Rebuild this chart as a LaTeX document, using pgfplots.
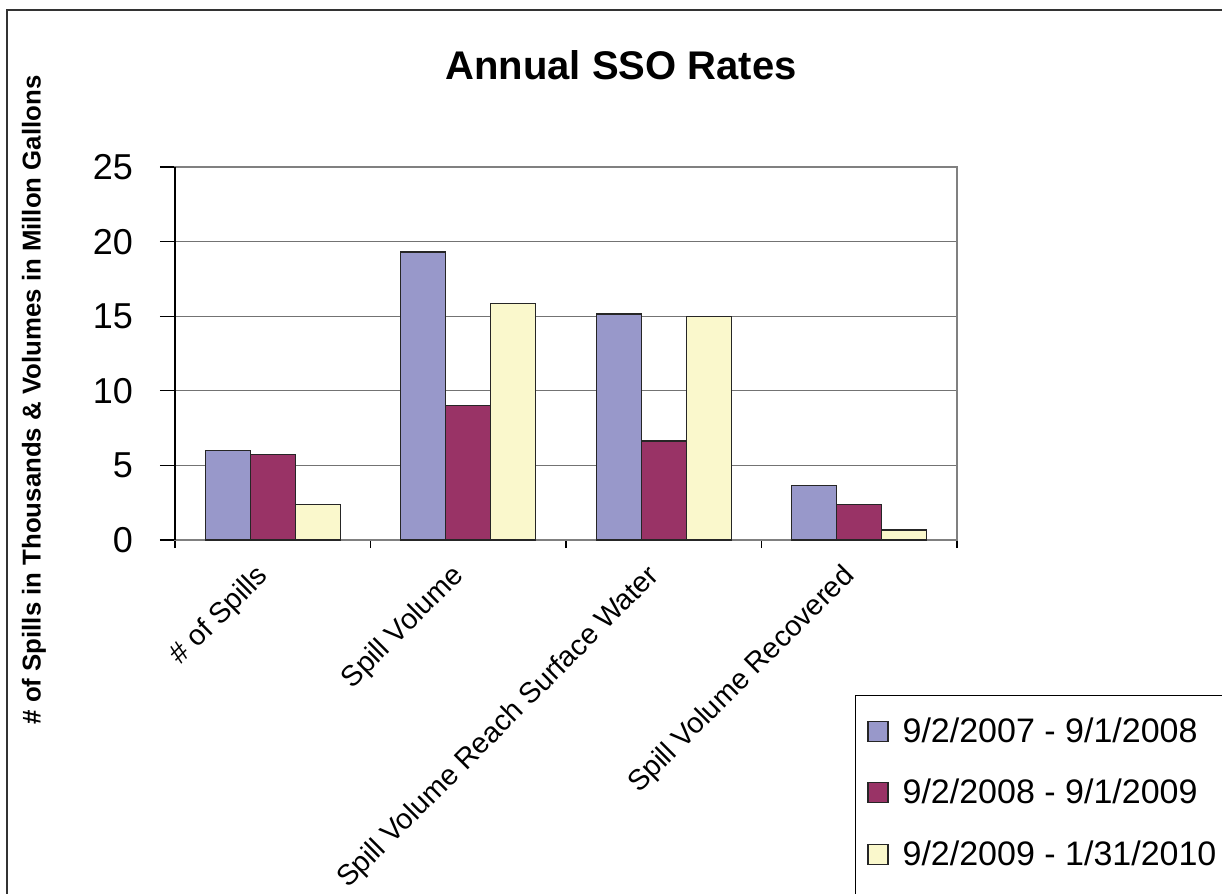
\documentclass[border=0pt]{standalone}
\usepackage{fontspec}
\setmainfont{Liberation Sans}
\usepackage{pgfplots}
\pgfplotsset{compat=1.18}
\definecolor{barblue}{RGB}{152,152,202}
\definecolor{barred}{RGB}{153,51,102}
\definecolor{baryellow}{RGB}{250,248,204}
\tikzset{xlab/.style={rotate=45, anchor=north east, inner sep=0pt,
    font=\fontsize{14.4}{16}\selectfont}}

\begin{document}
\begin{tikzpicture}
  % page of 1222x894 px at 0.5pt per px
  \useasboundingbox (0pt,0pt) rectangle (611pt,-447pt);
  \draw[line width=0.8pt, black!80] (3.6pt,-460pt) -- (3.6pt,-5pt) -- (620pt,-5pt);
  \node[font=\fontsize{20}{24}\selectfont\bfseries] at (310.5pt,-32.5pt) {Annual SSO Rates};
  \node[rotate=90, font=\fontsize{12.9}{15}\selectfont\bfseries] at (17pt,-200pt)
    {\# of Spills in Thousands \& Volumes in Millon Gallons};
  % legend frame runs off the page, as in the original
  \draw[black, line width=0.6pt] (427.8pt,-470pt) |- (640pt,-347.8pt);
  \begin{axis}[
      at={(87.5pt,-270pt)}, anchor=south west,
      scale only axis,
      width=391pt, height=186.5pt,
      xmin=-0.5, xmax=3.5,
      ymin=0, ymax=25,
      ytick={0,5,...,25},
      xtick={-0.5,0.5,1.5,2.5,3.5},
      xticklabels={},
      ytick pos=left, xtick pos=bottom,
      tick align=outside,
      major tick length=7.5pt,
      xtick style={/pgfplots/major tick length=4pt},
      tick style={black, line width=0.6pt},
      x axis line style={black},
      axis line style={gray, line width=0.6pt},
      ymajorgrids,
      grid style={black!55, line width=0.6pt},
      /pgf/number format/assume math mode=true,
      yticklabel style={font=\fontsize{18}{20}\selectfont, xshift=-10pt},
      ybar=0pt,
      bar width=22.5pt,
      clip=false,
      legend cell align=left,
      legend style={at={(0.8696,-0.4155)}, anchor=north west,
        draw=none, fill=none, font=\fontsize{17}{20}\selectfont,
        row sep=13pt, column sep=5pt, inner xsep=6pt, inner ysep=9pt},
      legend image code/.code={\draw[#1, line width=0.6pt] (0pt,-5pt) rectangle (10pt,5pt);},
    ]
    \addplot[fill=barblue, draw=black!85, line width=0.6pt]
      coordinates {(0,6.0) (1,19.3) (2,15.15) (3,3.64)};
    \addplot[fill=barred, draw=black!85, line width=0.6pt]
      coordinates {(0,5.75) (1,9.0) (2,6.63) (3,2.39)};
    \addplot[fill=baryellow, draw=black!85, line width=0.6pt]
      coordinates {(0,2.39) (1,15.85) (2,15.0) (3,0.67)};
    \legend{9/2/2007 - 9/1/2008, 9/2/2008 - 9/1/2009, 9/2/2009 - 1/31/2010}
    \draw[black, line width=0.6pt] (axis cs:-0.5,0) -- (axis cs:-0.5,25);
    \node[xlab] at ([xshift=-9.25pt,yshift=-11pt]axis cs:0,0) {\# of Spills};
    \node[xlab] at ([xshift=-9.25pt,yshift=-11pt]axis cs:1,0) {Spill Volume};
    \node[xlab] at ([xshift=-9.25pt,yshift=-11pt]axis cs:2,0) {Spill Volume Reach Surface Water};
    \node[xlab] at ([xshift=-9.25pt,yshift=-11pt]axis cs:3,0) {Spill Volume Recovered};
  \end{axis}
\end{tikzpicture}
\end{document}
